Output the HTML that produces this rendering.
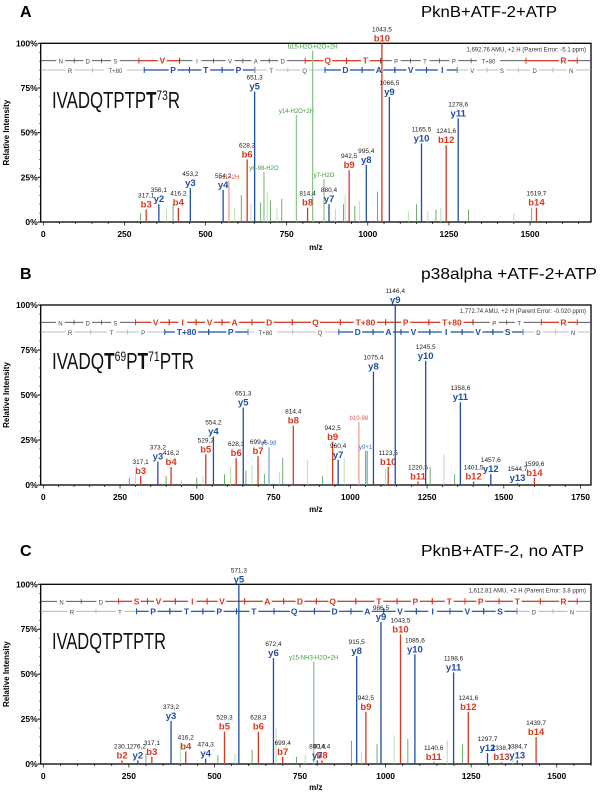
<!DOCTYPE html>
<html><head><meta charset="utf-8"><style>
body{margin:0;background:#fff;width:601px;height:797px;overflow:hidden}
svg{position:absolute;left:0;top:0;font-family:"Liberation Sans",Arial,sans-serif}
</style></head><body>
<svg id="fig" width="601" height="797" viewBox="0 0 601 797"></svg>
<script>
// ---------- Panel A data ----------
const aMz  = [317.1,356.1,416.2,453.2,554.2,572,628.3,651.3,680,780,830,814.4,865,880.4,942.5,995.4,1043.5,1066.5,1165.5,1241.6,1278.6,1519.7];
const aInt = [7,10,8,19,18,23,35,73,28,60,96,8,24,10,29,32,100,70,44,43,58,8];
const aLbl = ["b3","y2","b4","y3","y4","b11+2H","b6","y5","y6-98-H2O","y14-H2O+2H","b15-H2O-H2O+2H","b8","y7-H2O","y7","b9","y8","b10","y9","y10","b12","y11","b14"];
const aTyp = ["b","y","b","y","y","lr","b","y","g","g","g","b","g","y","b","y","b","y","y","b","y","b"];
const aNum = ["317,1","356,1","416,2","453,2","554,2","","628,3","651,3","","","","814,4","","880,4","942,5","995,4","1043,5","1066,5","1165,5","1241,6","1278,6","1519,7"];
const aMinMz  = [300,380,400,590,610,640,670,690,700,720,735,900,925,930,960,975,1030,1125,1150,1185,1210,1225,1310,1450,1505];
const aMinInt = [5,7,10,8,15,10,11,17,12,8,13,7,10,15,9,12,17,6,10,6,7,8,7,5,8];
// ---------- Panel B data ----------
const bMz  = [317.1,373.2,416.2,529.3,554.2,628.3,651.3,699.4,735,814.4,942.5,960.4,1028,1050,1075.4,1123.5,1146.4,1220.5,1245.5,1358.6,1401.5,1457.6,1544.7,1599.6];
const bInt = [5,13,10,17,27,15,43,16,21,33,24,14,35,19,63,10,100,2,69,46,2,6,1,4];
const bLbl = ["b3","y3","b4","b5","y4","b6","y5","b7","y6-98","b8","b9","y7","b10-98","y9+1","y8","b10","y9","b11","y10","y11","b12","y12","y13","b14"];
const bTyp = ["b","y","b","b","y","b","y","b","lb","b","b","y","lr","lb","y","b","y","b","y","y","b","y","y","b"];
const bNum = ["317,1","373,2","416,2","529,3","554,2","628,3","651,3","699,4","","814,4","942,5","960,4","","","1075,4","1123,5","1146,4","1220,5","1245,5","1358,6","1401,5","1457,6","1544,7","1599,6"];
const bMinMz  = [280,300,400,450,500,520,590,610,660,680,720,770,780,860,910,980,1055,1115,1260,1305,1340];
const bMinInt = [4,6,5,3,4,5,6,10,8,11,6,7,15,14,5,15,19,9,10,17,6];
// ---------- Panel C data ----------
const cMz  = [230.1,276.2,317.1,373.2,416.2,474.3,529.3,571.3,628.3,672.4,699.4,790,800.4,814.4,915.5,942.5,986.5,1043.5,1085.6,1140.6,1198.6,1241.6,1297.7,1338.7,1384.7,1439.7];
const cInt = [2,2,4,24,7,3,18,100,18,59,4,57,2,2,60,29,79,72,61,1,51,29,6,1,2,15];
const cLbl = ["b2","y2","b3","y3","b4","y4","b5","y5","b6","y6","b7","y15-NH3-H2O+2H","y7","b8","y8","b9","y9","b10","y10","b11","y11","b12","y12","b13","y13","b14"];
const cTyp = ["b","y","b","y","b","y","b","y","b","y","b","g","y","b","y","b","y","b","y","b","y","b","y","b","y","b"];
const cNum = ["230,1","276,2","317,1","373,2","416,2","474,3","529,3","571,3","628,3","672,4","699,4","","800,4","814,4","915,5","942,5","986,5","1043,5","1085,6","1140,6","1198,6","1241,6","1297,7","1338,7","1384,7","1439,7"];
const cMinMz  = [300,400,510,560,610,680,740,765,900,930,975,1025,1065,1180,1225,1370];
const cMinInt = [6,12,5,6,8,20,4,5,13,7,11,16,14,13,11,3];

const NS="http://www.w3.org/2000/svg";
const svg=document.getElementById('fig');
const COL={b:"#d9381e",y:"#1f4ea6",g:"#3c9a3c",lr:"#f0a090",lb:"#7fa5e0"};
function el(t,a,p){const e=document.createElementNS(NS,t);for(const k in a)e.setAttribute(k,a[k]);(p||svg).appendChild(e);return e;}
function txt(x,y,s,a,p){const e=el('text',Object.assign({x:x,y:y},a),p);e.textContent=s;return e;}

const panels=[
 {id:"a",letter:"A",title:"PknB+ATF-2+ATP",tW:136,top:43.3,bot:222,ppu:0.3245,ticks:[0,250,500,750,1000,1250,1500],
  info:"1,692.76 AMU, +2 H (Parent Error: -5.1 ppm)",pep:["IVADQTPTP","T","73","R"],pepY:108,pepW:128,tY:17,lblY:250,
  mz:aMz,it:aInt,lb:aLbl,ty:aTyp,nm:aNum,mmz:aMinMz,mit:aMinInt,
  r1:[["N",158],["D",228],["S",300],["V",422,1],["I",512],["V",598],["A",665],["D",735],["Q",852,1],["T",950,1],["P",1030],["T",1105],["P",1180],["T+80",1270],["R",1465,1]],
  r2:[["R",182],["T+80",300],["P",450,1],["T",535,1],["P",620,1],["T",705],["Q",792],["D",898,1],["A",985,1],["V",1068,1],["I",1150,1],["V",1228],["S",1305],["D",1390],["N",1485]],
  r1y:60.7,r2y:70},
 {id:"b",letter:"B",title:"p38alpha +ATF-2+ATP",tW:176,top:305,bot:485,ppu:0.307,ticks:[0,250,500,750,1000,1250,1500,1750],
  info:"1,772.74 AMU, +2 H (Parent Error: -0.020 ppm)",pep:["IVADQ","T","69","P","T","71","PTR"],pepY:369,pepW:142,tY:279,lblY:512,
  mz:bMz,it:bInt,lb:bLbl,ty:bTyp,nm:bNum,mmz:bMinMz,mit:bMinInt,
  r1:[["N",157],["D",228],["S",300],["V",405,1],["I",475,1],["V",545,1],["A",610,1],["D",700,1],["Q",820,1],["T+80",950,1],["P",1055,1],["T+80",1175,1],["P",1285],["T",1350],["R",1465,1]],
  r2:[["R",182],["T",290],["P",372],["T+80",485,1],["P",600,1],["T+80",690],["Q",832],["D",930,1],["A",1010,1],["V",1075,1],["I",1160,1],["V",1243,1],["S",1320,1],["D",1400],["N",1490]],
  r1y:322.3,r2y:332},
 {id:"c",letter:"C",title:"PknB+ATF-2, no ATP",tW:163,top:584.3,bot:764,ppu:0.3423,ticks:[0,250,500,750,1000,1250,1500],
  info:"1,612.81 AMU, +2 H (Parent Error: 3.8 ppm)",pep:["IVADQTPTPTR"],pepY:649,pepW:114,tY:556,lblY:790,
  mz:cMz,it:cInt,lb:cLbl,ty:cTyp,nm:cNum,mmz:cMinMz,mit:cMinInt,
  r1:[["N",160],["D",262],["S",355,1],["V",412,1],["I",500,1],["V",577,1],["A",695,1],["D",780,1],["Q",865,1],["T",985,1],["P",1080,1],["T",1168,1],["P",1250,1],["T",1345,1],["R",1465,1]],
  r2:[["R",187],["T",312],["P",398,1],["T",485,1],["P",570,1],["T",660,1],["Q",765,1],["D",870,1],["A",955,1],["V",1040,1],["I",1125,1],["V",1215,1],["S",1300,1],["D",1388],["N",1487]],
  r1y:601.3,r2y:611.3}
];

const L=40.7,R=591,X0=43.3,ZS=2.6;
panels.forEach(P=>{
  const g=el('g',{});
  
  
  const X=v=>X0+v*P.ppu;
  const Y=v=>P.bot-v/100*(P.bot-P.top);
  let t=txt(20,P.tY,P.letter,{'font-size':16,'font-weight':'bold'},g);
  
  t=txt(421,P.tY,P.title,{'font-size':16,textLength:P.tW,lengthAdjust:'spacingAndGlyphs'},g);
  
  const fr=el('rect',{x:L,y:P.top,width:R-L,height:P.bot-P.top,fill:'none',stroke:'#000','stroke-width':1.3},g);
  
  [0,25,50,75,100].forEach(v=>{
    el('line',{x1:L-3,x2:L,y1:Y(v),y2:Y(v),stroke:'#000'},g);
    const tt=txt(L-3,Y(v)+3,v+'%',{'font-size':8.5,'font-weight':'bold','text-anchor':'end'},g);
    
  });
  for(let v=5;v<100;v+=5){ if(v%25) el('line',{x1:L-1.5,x2:L,y1:Y(v),y2:Y(v),stroke:'#000','stroke-width':0.6},g);}
  for(let m=0;X(m)<=R;m+=50){el('line',{x1:X(m),x2:X(m),y1:P.bot,y2:P.bot+(m%250?2:3.5),stroke:'#000','stroke-width':0.7},g);}
  P.ticks.forEach(v=>{const tt=txt(X(v),P.bot+15,String(v),{'font-size':8.5,'font-weight':'bold','text-anchor':'middle'},g);
    });
  t=txt((L+R)/2,P.lblY,'m/z',{'font-size':8,'font-weight':'bold','text-anchor':'middle'},g);
  
  const ym=(P.top+P.bot)/2;
  t=txt(9,ym,'Relative Intensity',{'font-size':8,'font-weight':'bold','text-anchor':'middle',transform:'rotate(-90 9 '+ym+')'},g);
  
  t=txt(586,P.top+8,P.info,{'font-size':6,'text-anchor':'end',fill:'#333'},g);
  
  const pt=txt(52,P.pepY,'',{'font-size':23,fill:'#111',textLength:P.pepW,lengthAdjust:'spacingAndGlyphs'},g);
  
  P.pep.forEach((s,i)=>{const sp=el('tspan',{},pt);sp.textContent=s;
    if(s==='T'&&P.pep.length>1){sp.setAttribute('font-weight','bold');}
    if(/^\d+$/.test(s)){sp.setAttribute('font-size',14);sp.setAttribute('dy',-8);}
    else if(i>0&&/^\d+$/.test(P.pep[i-1])){sp.setAttribute('dy',8);}
  });
  [[P.r1,P.r1y,'#444',COL.b],[P.r2,P.r2y,'#aaa',COL.y]].forEach(([row,yy,base,hc])=>{
    el('line',{x1:L,x2:R,y1:yy,y2:yy,stroke:base,'stroke-width':0.8},g);
    row.forEach((tk,i)=>{
      const x=tk[1]/ZS;
      if(tk[2]){const pv=i>0?row[i-1][1]/ZS:x-15, nx=i<row.length-1?row[i+1][1]/ZS:R;
        const a=(pv+x)/2,b=Math.min((x+nx)/2,R);
        el('line',{x1:a,x2:b,y1:yy,y2:yy,stroke:hc,'stroke-width':1.2},g);
        el('line',{x1:a,x2:a,y1:yy-3,y2:yy+3,stroke:hc},g);
        if(b<R-1)el('line',{x1:b,x2:b,y1:yy-3,y2:yy+3,stroke:hc},g);
      } else if(i>0){const a=(row[i-1][1]/ZS+x)/2;el('line',{x1:a,x2:a,y1:yy-2.5,y2:yy+2.5,stroke:base,'stroke-width':0.7},g);}
      el('rect',{x:x-(tk[0].length*2.4+2),y:yy-3.5,width:tk[0].length*4.8+4,height:7,fill:'#fff'},g);
      const lt=txt(x,yy+3,tk[0],tk[2]?{'font-size':8.5,'font-weight':'bold','text-anchor':'middle',fill:hc}:{'font-size':6,'text-anchor':'middle',fill:'#444'},g);
      
    });
  });
  P.mmz.forEach((m,i)=>{
    const ln=el('line',{x1:X(m),x2:X(m),y1:P.bot,y2:Y(P.mit[i]),stroke:i%2?'#a8d8a0':'#4a9a4a','stroke-width':0.8},g);
    
  });
  P.mz.forEach((m,i)=>{
    const ty=P.ty[i],c=COL[ty],x=X(m),yt=Y(P.it[i]);
    const ln=el('line',{x1:x,x2:x,y1:P.bot,y2:yt,stroke:ty==='g'?'#8cc88c':c,'stroke-width':1.3},g);
    
    if(ty==='g'||ty==='lr'||ty==='lb'){
      const lt=txt(x,yt-2,P.lb[i],{'font-size':6,'text-anchor':'middle',fill:ty==='g'?COL.g:(ty==='lr'?'#e05a40':'#3a70d0')},g);
      
    } else {
      const ly=yt-2;
      const lt=txt(x,ly,P.lb[i],{'font-size':9.5,'font-weight':'bold','text-anchor':'middle',fill:c},g);
      
      if(P.nm[i]){const nt=txt(x,ly-10,P.nm[i],{'font-size':6.5,'text-anchor':'middle',fill:'#222'},g);
        }
    }
  });
});
</script>
</body></html>
